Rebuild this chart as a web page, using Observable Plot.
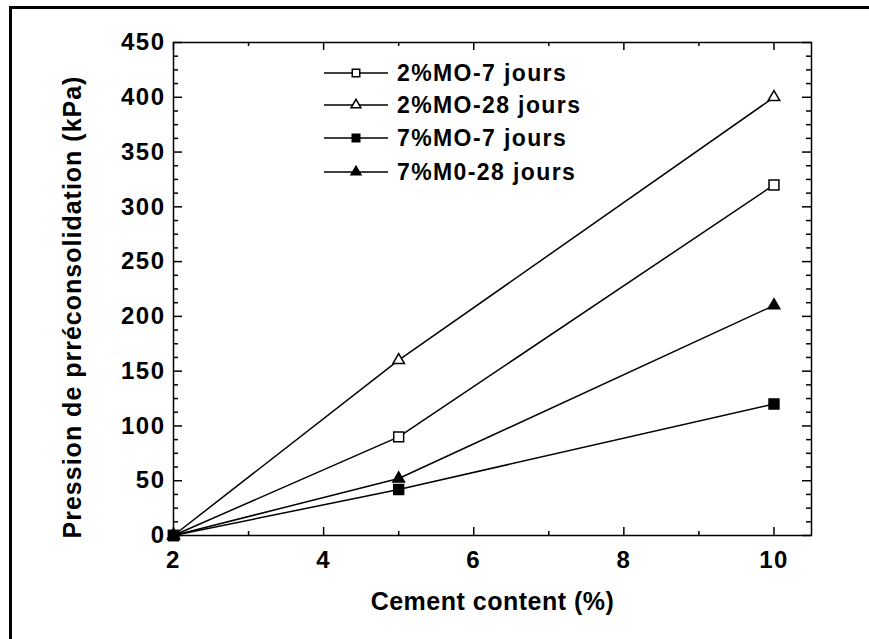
<!DOCTYPE html>
<html><head><meta charset="utf-8">
<script src="https://cdn.jsdelivr.net/npm/d3@7"></script>
<script src="https://cdn.jsdelivr.net/npm/@observablehq/plot@0.6"></script>
<style>
body{margin:0;background:#fff;}
#wrap{position:relative;width:869px;height:639px;overflow:hidden;font-family:"Liberation Sans",Arial,sans-serif;}
#border{position:absolute;left:9px;top:6px;right:-10px;bottom:-10px;border-top:3px solid #000;border-left:3px solid #000;pointer-events:none;}
#chart{position:absolute;left:0;top:0;}
#legend{position:absolute;left:324px;top:0;}
.row{position:absolute;left:0;height:24px;display:flex;align-items:center;white-space:nowrap;}
.row span{margin-left:7px;font-size:23px;font-weight:bold;letter-spacing:1.4px;color:#000;}
</style></head><body>
<div id="wrap"><div id="chart"></div><div id="legend"></div><div id="border"></div></div>
<script>
// Data
const cement = [2, 5, 10];
const series = ["2%MO-7 jours", "2%MO-28 jours", "7%MO-7 jours", "7%M0-28 jours"];
const mo2_7j = [0, 90, 320];
const mo2_28j = [0, 160, 400];
const mo7_7j = [0, 42, 120];
const mo7_28j = [0, 52, 210];
const symbols = ["square", "triangle", "square", "triangle"];
const fills = ["white", "white", "black", "black"];
const xMajor = [2, 4, 6, 8, 10];
const xMinor = [3, 5, 7, 9];
const yMajor = [0, 50, 100, 150, 200, 250, 300, 350, 400, 450];
const yMinor = d3.range(0, 451, 12.5).filter(v => v % 50 !== 0);
const xTitle = "Cement content (%)";
const yTitle = "Pression de prréconsolidation (kPa)";

const values = [mo2_7j, mo2_28j, mo7_7j, mo7_28j];
const rows = series.flatMap((s, i) => cement.map((c, j) => ({series: s, sym: symbols[i], x: c, y: values[i][j]})));

const W = 869, H = 639, mL = 173, mR = 58, mT = 42, mB = 104;
const pw = W - mL - mR, ph = H - mT - mB;
const rSquare = 5.6, rTriangle = 4.3;
const font = "Liberation Sans, Arial, sans-serif";

const plot = Plot.plot({
  width: W, height: H,
  marginLeft: mL, marginRight: mR, marginTop: mT, marginBottom: mB,
  style: {fontFamily: font, background: "transparent", color: "black"},
  x: {domain: [2, 10.5]},
  y: {domain: [0, 450]},
  symbol: {domain: series, range: symbols},
  color: {domain: series, range: fills},
  marks: [
    Plot.line(rows, {x: "x", y: "y", z: "series", stroke: "black", strokeWidth: 1.5}),
    // inward ticks
    Plot.tickX(xMajor, {x: d => d, insetTop: ph - 8, stroke: "black", strokeWidth: 1.5}),
    Plot.tickX(xMinor, {x: d => d, insetTop: ph - 4, stroke: "black", strokeWidth: 1.5}),
    Plot.tickX(xMajor, {x: d => d, insetBottom: ph - 8, stroke: "black", strokeWidth: 1.5}),
    Plot.tickX(xMinor, {x: d => d, insetBottom: ph - 4, stroke: "black", strokeWidth: 1.5}),
    Plot.tickY(yMajor, {y: d => d, insetRight: pw - 9, stroke: "black", strokeWidth: 1.5}),
    Plot.tickY(yMinor, {y: d => d, insetRight: pw - 5, stroke: "black", strokeWidth: 1.5}),
    Plot.tickY(yMajor, {y: d => d, insetLeft: pw - 9, stroke: "black", strokeWidth: 1.5}),
    Plot.tickY(yMinor, {y: d => d, insetLeft: pw - 5, stroke: "black", strokeWidth: 1.5}),
    Plot.frame({stroke: "black", strokeWidth: 1.5}),
    Plot.dot(rows, {filter: d => d.sym === "square", x: "x", y: "y", symbol: "series", fill: "series", stroke: "black", strokeWidth: 1.5, r: rSquare}),
    Plot.dot(rows, {filter: d => d.sym === "triangle", x: "x", y: "y", symbol: "series", fill: "series", stroke: "black", strokeWidth: 1.5, r: rTriangle}),
    Plot.axisX(xMajor, {tickSize: 0, tickPadding: 15, fontSize: 24, fontWeight: "bold", label: null}),
    Plot.axisY(yMajor, {tickSize: 0, tickPadding: 8, fontSize: 24, fontWeight: "bold", label: null}),
    Plot.text([xTitle], {frameAnchor: "bottom", lineAnchor: "top", dy: 57, fontSize: 25, fontWeight: "bold", fill: "black"}),
    Plot.text([yTitle], {frameAnchor: "left", textAnchor: "middle", rotate: -90, dx: -101, dy: 18, fontSize: 25, fontWeight: "bold", fill: "black"})
  ]
});
document.getElementById("chart").appendChild(plot);

// letter spacing to mimic the wide original lettering
const svgSel = d3.select(plot);
svgSel.selectAll('g[aria-label="x-axis tick label"] text, g[aria-label="y-axis tick label"] text').style("letter-spacing", "1.5px");
svgSel.selectAll('g[aria-label="text"] text').style("letter-spacing", function() {
  return this.textContent === yTitle ? "1px" : "0.5px";
});

// Legend overlay
const legend = d3.select("#legend");
const rowTops = [73, 105, 138, 172];
series.forEach((s, i) => {
  const row = legend.append("div").attr("class", "row").style("top", (rowTops[i] - 12) + "px");
  const svg = row.append("svg").attr("width", 66).attr("height", 24);
  svg.append("line").attr("x1", 0).attr("x2", 64).attr("y1", 12).attr("y2", 12)
    .attr("stroke", "black").attr("stroke-width", 1.5);
  const isSq = symbols[i] === "square";
  const sym = isSq ? d3.symbolSquare : d3.symbolTriangle;
  svg.append("path").attr("d", d3.symbol(sym, isSq ? 56 : 42)())
    .attr("transform", "translate(32,12)")
    .attr("fill", fills[i]).attr("stroke", "black").attr("stroke-width", 1.5);
  row.append("span").text(s);
});
</script>
</body></html>
